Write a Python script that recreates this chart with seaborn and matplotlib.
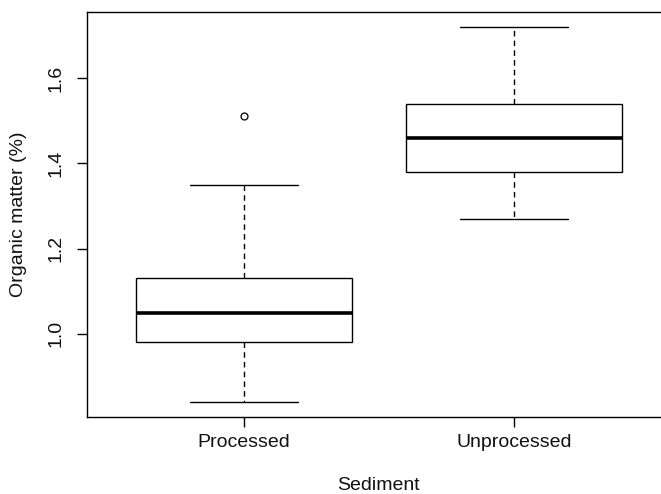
import matplotlib
matplotlib.use("Agg")
import matplotlib.pyplot as plt
import seaborn as sns
import pandas as pd

# Data
categories = ["Processed", "Unprocessed"]
processed = [0.84, 0.92, 0.98, 1.02, 1.05, 1.09, 1.13, 1.35, 1.51]
unprocessed = [1.27, 1.33, 1.38, 1.42, 1.46, 1.50, 1.54, 1.62, 1.72]
yticks = [1.0, 1.2, 1.4, 1.6]
ytick_labels = ["1.0", "1.2", "1.4", "1.6"]

df = pd.DataFrame({
    "Sediment": [categories[0]] * len(processed) + [categories[1]] * len(unprocessed),
    "OM": processed + unprocessed,
})

sns.set_style("white")
plt.rcParams["font.family"] = ["Liberation Sans", "DejaVu Sans"]

W, H = 661, 494
fig = plt.figure(figsize=(W / 100, H / 100), dpi=100)
left, right, top, bottom = 87, 670.6, 12, 417
ax = fig.add_axes([left / W, 1 - bottom / H, (right - left) / W, (bottom - top) / H])

sns.boxplot(
    data=df, x="Sediment", y="OM", order=categories, ax=ax,
    color="white", linecolor="black", linewidth=1.0, width=0.8, fill=True,
    whis=1.5,
    whiskerprops=dict(linestyle=(0, (4, 3)), linewidth=1.0, color="black"),
    capprops=dict(linewidth=1.0, color="black"),
    medianprops=dict(linewidth=2.6, color="black", solid_capstyle="butt"),
    boxprops=dict(linewidth=1.0, edgecolor="black", facecolor="white"),
    flierprops=dict(marker="o", markerfacecolor="none", markeredgecolor="black",
                    markersize=5, markeredgewidth=0.9),
)

ax.set_xlim(-0.58, 1.58)
ax.set_ylim(0.8048, 1.7552)
ax.set_yticks(yticks)
ax.set_yticklabels(ytick_labels)
ax.set_xlabel("")
ax.set_ylabel("")

for sp in ax.spines.values():
    sp.set_visible(True)
    sp.set_color("black")
    sp.set_linewidth(1.0)

ax.tick_params(axis="both", which="major", direction="out", length=7, width=1.0,
               color="black", labelsize=14, labelcolor="#111111",
               left=True, bottom=True)
ax.tick_params(axis="x", pad=5.0)
ax.tick_params(axis="y", pad=9.5)
plt.setp(ax.get_yticklabels(), rotation=90, va="center", ha="right")

fig.text(378.8 / W, 1 - 489.5 / H, "Sediment", ha="center", va="baseline",
         fontsize=14, color="#111111")
fig.text(19 / W, 1 - 214.5 / H, "Organic matter (%)", ha="center", va="center",
         rotation=90, fontsize=14, color="#111111")

fig.savefig("out.png", dpi=100)
